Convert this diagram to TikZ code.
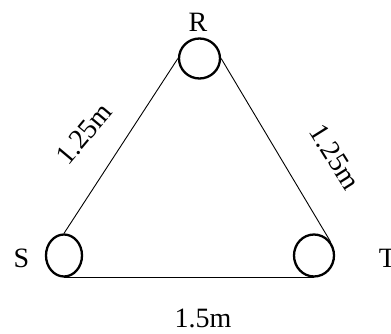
\documentclass[tikz,border=0pt]{standalone}
\usepackage{fontspec}
\setmainfont{Liberation Serif}
\usetikzlibrary{shapes.geometric}
\begin{document}
\begin{tikzpicture}[x=1pt,y=-1pt,
  ring/.style={draw, ellipse, line width=2.3pt, inner sep=0pt},
  wire/.style={line width=0.9pt},
  lbl/.style={inner sep=0pt, font=\fontsize{28}{34}\selectfont}]
\useasboundingbox (0,0) rectangle (391,334);
\clip (0,0) rectangle (391,334);
\node[ring, minimum width=41pt, minimum height=40pt] (R) at (199.5,58.5) {};
\node[ring, minimum width=36pt, minimum height=42pt] (S) at (64,255.5) {};
\node[ring, minimum width=40pt, minimum height=42pt] (T) at (314,255.5) {};
\draw[wire] (R.west) -- (S.north);
\draw[wire] (R.east) -- (T.40);
\draw[wire] (S.south) -- (T.south);
\node[lbl] (lR) at (198,22.5) {R};
\node[lbl] (lS) at (21.5,258) {S};
\node[lbl] (lT) at (387.5,258.5) {T};
\node[lbl] (lb) at (203,318) {1.5m};
\node[lbl, rotate=50] (ll) at (84,134) {1.25m};
\node[lbl, rotate=-58] (lr) at (335,157) {1.25m};
\end{tikzpicture}
\end{document}
